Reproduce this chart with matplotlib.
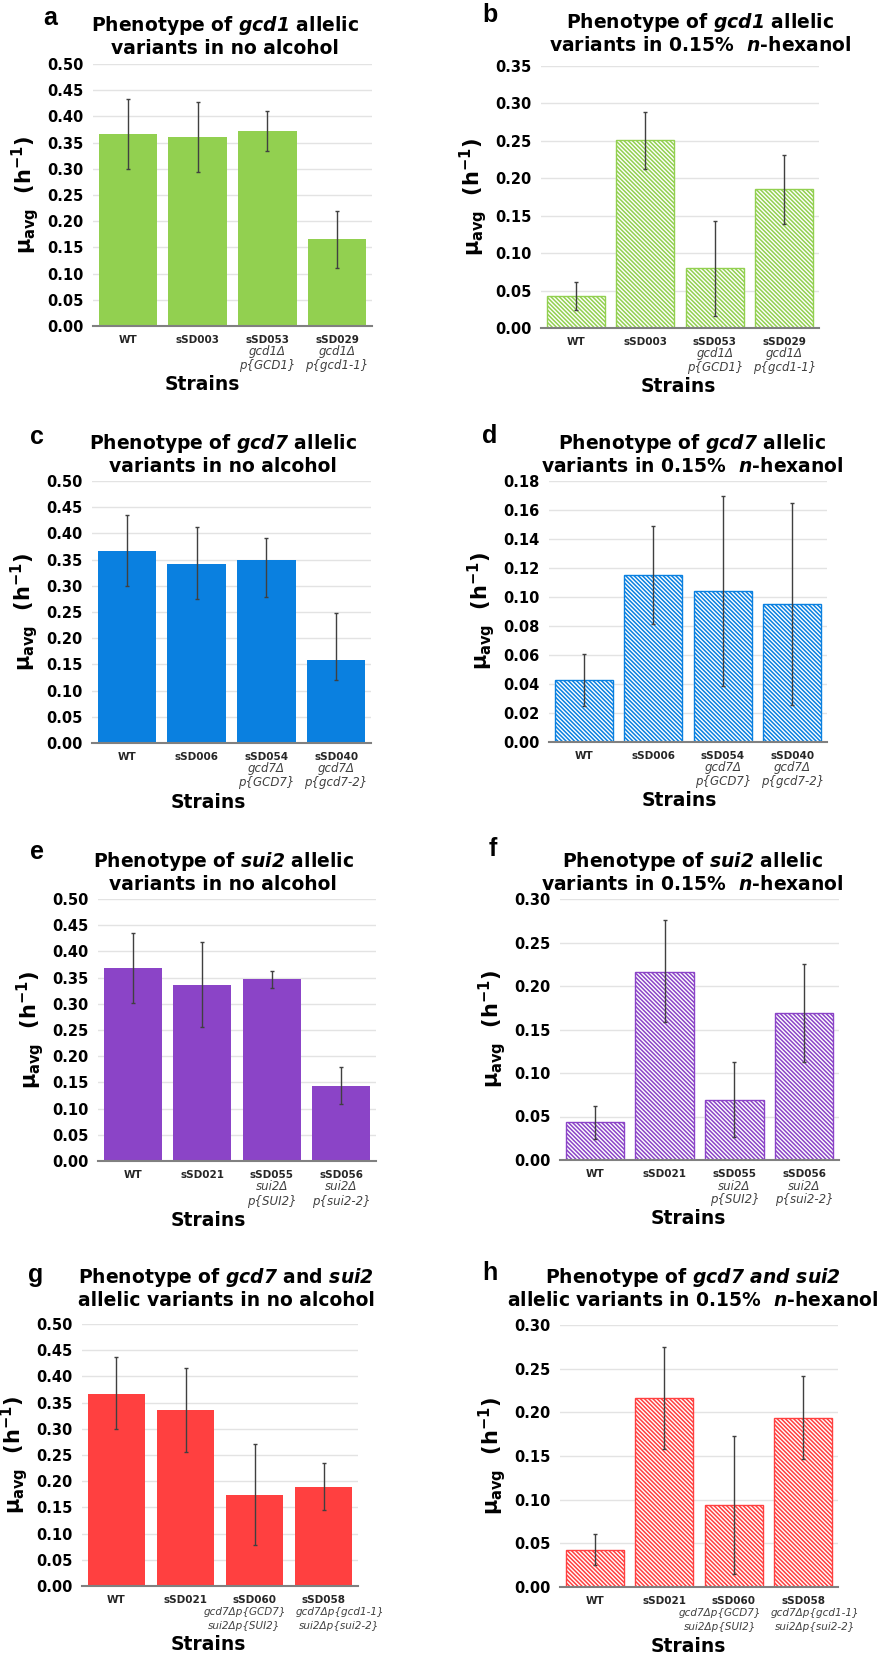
import numpy as np
import matplotlib
matplotlib.use('Agg')
import matplotlib.pyplot as plt
from matplotlib.ticker import FormatStrFormatter

plt.rcParams['font.family'] = ['DejaVu Sans']
plt.rcParams['mathtext.fontset'] = 'custom'
plt.rcParams['mathtext.rm'] = 'DejaVu Sans:bold'
plt.rcParams['mathtext.bf'] = 'DejaVu Sans:bold'
plt.rcParams['mathtext.it'] = 'DejaVu Sans:italic:bold'
plt.rcParams['mathtext.bfit'] = 'DejaVu Sans:italic:bold'
plt.rcParams['hatch.linewidth'] = 1.1

# ---- data ----
strains_gcd1 = ['WT', 'sSD003', 'sSD053', 'sSD029']
sub_gcd1 = [[], [], ['gcd1Δ', 'p{GCD1}'], ['gcd1Δ', 'p{gcd1-1}']]
strains_gcd7 = ['WT', 'sSD006', 'sSD054', 'sSD040']
sub_gcd7 = [[], [], ['gcd7Δ', 'p{GCD7}'], ['gcd7Δ', 'p{gcd7-2}']]
strains_sui2 = ['WT', 'sSD021', 'sSD055', 'sSD056']
sub_sui2 = [[], [], ['sui2Δ', 'p{SUI2}'], ['sui2Δ', 'p{sui2-2}']]
strains_both = ['WT', 'sSD021', 'sSD060', 'sSD058']
sub_both = [[], [], ['gcd7Δp{GCD7}', 'sui2Δp{SUI2}'], ['gcd7Δp{gcd1-1}', 'sui2Δp{sui2-2}']]

# mean growth rate and error bar ends (low, high)
a_mean = [0.367, 0.360, 0.372, 0.166]
a_lo = [0.300, 0.294, 0.334, 0.111]
a_hi = [0.434, 0.427, 0.410, 0.220]

b_mean = [0.043, 0.2515, 0.080, 0.1855]
b_lo = [0.0245, 0.213, 0.016, 0.1395]
b_hi = [0.061, 0.289, 0.143, 0.231]

c_mean = [0.367, 0.341, 0.350, 0.159]
c_lo = [0.300, 0.274, 0.278, 0.120]
c_hi = [0.436, 0.413, 0.391, 0.249]

d_mean = [0.0427, 0.1152, 0.104, 0.0955]
d_lo = [0.0246, 0.0815, 0.0383, 0.0257]
d_hi = [0.0608, 0.1488, 0.1695, 0.1646]

e_mean = [0.3686, 0.3355, 0.347, 0.1435]
e_lo = [0.301, 0.255, 0.331, 0.1084]
e_hi = [0.436, 0.417, 0.3635, 0.1786]

f_mean = [0.0432, 0.2166, 0.0693, 0.1695]
f_lo = [0.0245, 0.1584, 0.026, 0.1125]
f_hi = [0.0616, 0.2756, 0.1129, 0.225]

g_mean = [0.3673, 0.3355, 0.1735, 0.1894]
g_lo = [0.2997, 0.2551, 0.0778, 0.1448]
g_hi = [0.4369, 0.4152, 0.2704, 0.2353]

h_mean = [0.0429, 0.2166, 0.0941, 0.1937]
h_lo = [0.0249, 0.1584, 0.0153, 0.1462]
h_hi = [0.0612, 0.2752, 0.1730, 0.2411]

t_noalc = 'variants in no alcohol'
t_hex = r'variants in 0.15%  $\mathit{n}$-hexanol'
titles = {
    'a': r'Phenotype of $\mathbfit{gcd1}$ allelic' + '\n' + t_noalc,
    'b': r'Phenotype of $\mathbfit{gcd1}$ allelic' + '\n' + t_hex,
    'c': r'Phenotype of $\mathbfit{gcd7}$ allelic' + '\n' + t_noalc,
    'd': r'Phenotype of $\mathbfit{gcd7}$ allelic' + '\n' + t_hex,
    'e': r'Phenotype of $\mathbfit{sui2}$ allelic' + '\n' + t_noalc,
    'f': r'Phenotype of $\mathbfit{sui2}$ allelic' + '\n' + t_hex,
    'g': r'Phenotype of $\mathbfit{gcd7}$ and $\mathbfit{sui2}$' + '\nallelic variants in no alcohol',
    'h': r'Phenotype of $\mathbfit{gcd7\ and\ sui2}$' + '\n' + r'allelic variants in 0.15%  $\mathit{n}$-hexanol',
}
ylabel = r'μ$_{\mathrm{avg}}$  (h$^{\mathrm{-1}}$)'
hatch_pat = chr(92) * 8

green = '#92D050'
blue = '#0A80E0'
purple = '#8B44C7'
red = '#FF4040'

# panel layout in pixels: axes (left, right, top, bottom), title centre, letter, "Strains" x,
# genotype font size and horizontal shift of genotype lines
panels = [
    dict(k='a', s=strains_gcd1, sub=sub_gcd1, m=a_mean, lo=a_lo, hi=a_hi, ymax=0.50, step=0.05,
         col=green, hatch=False, ax=(93, 372, 64, 326), t=(225, 36), L=(50, 18), sx=202, ss=8.5),
    dict(k='b', s=strains_gcd1, sub=sub_gcd1, m=b_mean, lo=b_lo, hi=b_hi, ymax=0.35, step=0.05,
         col=green, hatch=True, ax=(541, 819, 66, 328), t=(700, 33), L=(490, 15), sx=678, ss=8.5),
    dict(k='c', s=strains_gcd7, sub=sub_gcd7, m=c_mean, lo=c_lo, hi=c_hi, ymax=0.50, step=0.05,
         col=blue, hatch=False, ax=(92, 371, 481, 743), t=(223, 454), L=(37, 437), sx=208, ss=8.5),
    dict(k='d', s=strains_gcd7, sub=sub_gcd7, m=d_mean, lo=d_lo, hi=d_hi, ymax=0.18, step=0.02,
         col=blue, hatch=True, ax=(549, 827, 481, 742), t=(692, 454), L=(490, 436), sx=679, ss=8.5),
    dict(k='e', s=strains_sui2, sub=sub_sui2, m=e_mean, lo=e_lo, hi=e_hi, ymax=0.50, step=0.05,
         col=purple, hatch=False, ax=(98, 376, 899, 1161), t=(223, 872), L=(37, 852), sx=208, ss=8.5),
    dict(k='f', s=strains_sui2, sub=sub_sui2, m=f_mean, lo=f_lo, hi=f_hi, ymax=0.30, step=0.05,
         col=purple, hatch=True, ax=(560, 839, 899, 1160), t=(692, 872), L=(493, 849), sx=688, ss=8.5),
    dict(k='g', s=strains_both, sub=sub_both, m=g_mean, lo=g_lo, hi=g_hi, ymax=0.50, step=0.05,
         col=red, hatch=False, ax=(82, 358, 1324, 1586), t=(226, 1288), L=(36, 1275), sx=208, ss=7.5,
         dx=[0, 0, -10, 16]),
    dict(k='h', s=strains_both, sub=sub_both, m=h_mean, lo=h_lo, hi=h_hi, ymax=0.30, step=0.05,
         col=red, hatch=True, ax=(560, 838, 1325, 1587), t=(693, 1288), L=(490, 1273), sx=688, ss=7.5,
         dx=[0, 0, -14, 12]),
]

W, H = 887, 1654
fig = plt.figure(figsize=(W / 100, H / 100), dpi=100)

for p in panels:
    l, r, t, b = p['ax']
    ax = fig.add_axes([l / W, 1 - b / H, (r - l) / W, (b - t) / H])
    x = np.arange(len(p['s']))
    m = np.array(p['m'])
    lo = np.array(p['lo'])
    hi = np.array(p['hi'])

    if p['hatch']:
        ax.bar(x, m, width=0.84, color='white', edgecolor=p['col'], hatch=hatch_pat, linewidth=1, zorder=2)
    else:
        ax.bar(x, m, width=0.84, color=p['col'], edgecolor='none', zorder=2)
    ax.errorbar(x, m, yerr=[m - lo, hi - m], fmt='none', ecolor='#404040',
                elinewidth=1, capsize=1.5, capthick=1, zorder=3)

    ax.set_xlim(-0.5, len(x) - 0.5)
    ax.set_ylim(0, p['ymax'])
    ax.set_yticks(np.arange(0, p['ymax'] + 1e-9, p['step']))
    ax.yaxis.set_major_formatter(FormatStrFormatter('%.2f'))
    ax.set_axisbelow(True)
    ax.yaxis.grid(True, color='#e3e3e3', linewidth=1)
    for sp in ['top', 'right', 'left']:
        ax.spines[sp].set_visible(False)
    ax.spines['bottom'].set_color('#808080')
    ax.spines['bottom'].set_linewidth(1.5)
    ax.spines['bottom'].set_zorder(4)
    ax.set_xticks([])
    ax.tick_params(axis='y', length=0, pad=7)
    for lab in ax.get_yticklabels():
        lab.set_fontweight('bold')
        lab.set_fontsize(10.5)

    # x labels: strain name + italic genotype lines
    dx = p.get('dx', [0] * len(x))
    for i, name in enumerate(p['s']):
        ax.annotate(name, xy=(i, 0), xycoords=('data', 'axes fraction'), xytext=(0, -14),
                    textcoords='offset pixels', ha='center', va='center',
                    fontsize=7.5, fontweight='bold', color='#262626')
        for j, line in enumerate(p['sub'][i]):
            ax.annotate(line, xy=(i, 0), xycoords=('data', 'axes fraction'),
                        xytext=(dx[i], -26 - 14 * j),
                        textcoords='offset pixels', ha='center', va='center',
                        fontsize=p['ss'], fontstyle='italic', color='#404040')

    ax.annotate(ylabel, xy=(0, 0.5), xycoords='axes fraction',
                xytext=(-68, 0), textcoords='offset pixels', rotation=90,
                ha='center', va='center', fontsize=15, fontweight='bold')

    fig.text(p['sx'] / W, 1 - (b + 59) / H, 'Strains', ha='center', va='center',
             fontsize=13.5, fontweight='bold')
    fig.text(p['t'][0] / W, 1 - p['t'][1] / H, titles[p['k']], ha='center', va='center',
             fontsize=13.5, fontweight='bold', linespacing=1.15)
    fig.text(p['L'][0] / W, 1 - p['L'][1] / H, p['k'], ha='center', va='center',
             fontsize=18, fontweight='bold', family='Liberation Sans')

fig.savefig('out.png', dpi=100, facecolor='white')
